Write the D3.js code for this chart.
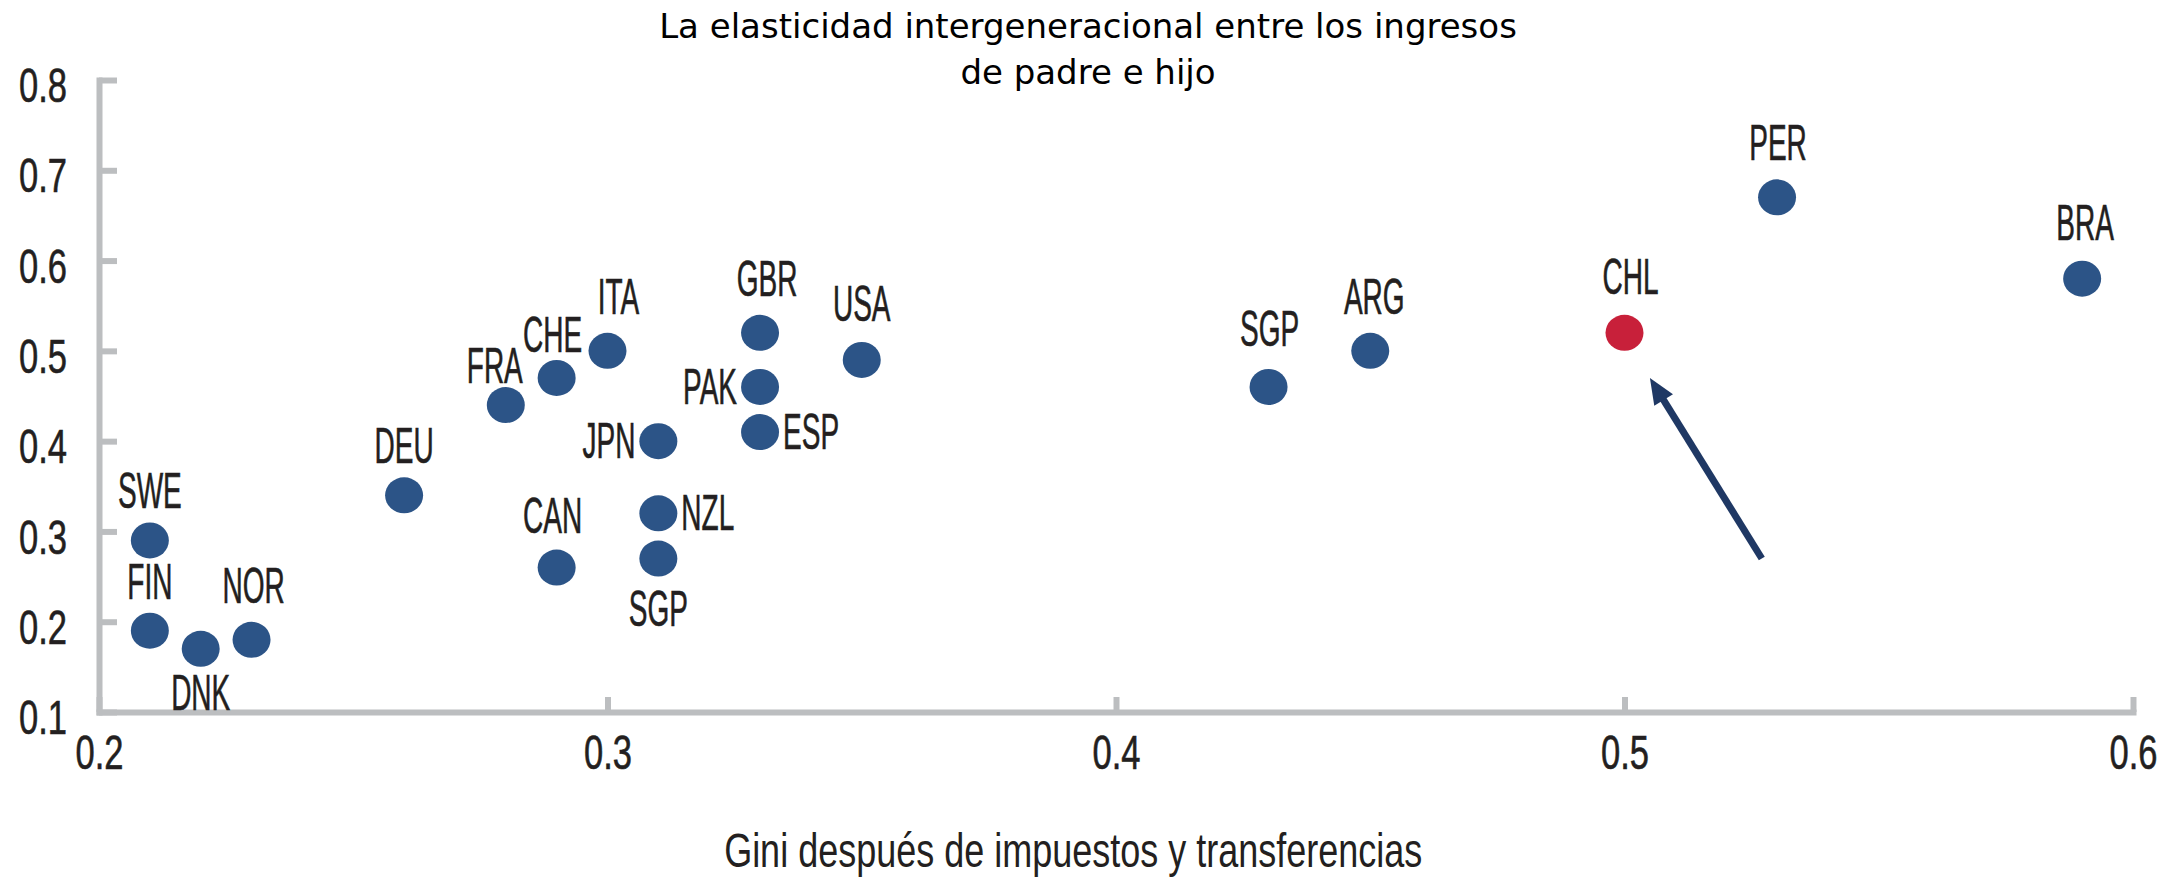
<!DOCTYPE html>
<html>
<head>
<meta charset="utf-8">
<script src="https://cdn.jsdelivr.net/npm/d3@7"></script>
<style>
  html, body { margin: 0; padding: 0; background: #fff; }
  svg { display: block; }
</style>
</head>
<body>
<svg id="chart" width="2184" height="882"></svg>
<script>
// ---------- data ----------
const countries = ["SWE","FIN","DNK","NOR","DEU","CAN","FRA","CHE","ITA","JPN","NZL","SGP","GBR","PAK","ESP","USA","SGP","ARG","CHL","PER","BRA"];
const gini      = [0.21, 0.21, 0.22, 0.23, 0.26, 0.29, 0.28, 0.29, 0.30, 0.31, 0.31, 0.31, 0.33, 0.33, 0.33, 0.35, 0.43, 0.45, 0.50, 0.53, 0.59];
const elasticity= [0.29, 0.19, 0.17, 0.18, 0.34, 0.26, 0.44, 0.47, 0.50, 0.40, 0.32, 0.27, 0.52, 0.46, 0.41, 0.49, 0.46, 0.50, 0.52, 0.67, 0.58];
const highlight = "CHL";
const xTicks = [0.2, 0.3, 0.4, 0.5, 0.6];
const yTicks = [0.1, 0.2, 0.3, 0.4, 0.5, 0.6, 0.7, 0.8];
const titleLines = ["La elasticidad intergeneracional entre los ingresos", "de padre e hijo"];
const xTitle = "Gini después de impuestos y transferencias";
// arrow annotation (data coordinates): from tail to head
const arrowFrom = [0.527, 0.27];
const arrowTo   = [0.505, 0.47];

// label placement per point (t = above, b = below, l = left, r = right)
const placement = ["t","t","b","t","t","t","t","t","t","l","r","b","t","l","r","t","t","t","t","t","t"];

// ---------- layout / style ----------
const svg = d3.select("#chart");
const x = d3.scaleLinear().domain([0.2, 0.6]).range([99, 2133]);
const y = d3.scaleLinear().domain([0.1, 0.8]).range([712, 80]);

const axisColor = "#bcbec0";
const textColor = "#231f20";
const dotColor = "#2c5487";
const redColor = "#c8203a";
const arrowColor = "#1f3864";
const condFont = "'Liberation Sans', Arial, sans-serif";

// nudges for crowded labels [dx, dy of label centre]
const nudge = { 0:[0,-49], 1:[0,-49], 3:[2,-54], 4:[0,-49], 5:[-4,-52], 6:[-11,-39], 7:[-4,-43], 8:[11,-54], 12:[7,-54], 15:[0,-56], 16:[1,-58], 17:[4,-54], 18:[6,-56], 19:[1,-54], 20:[3,-56] };

// ---------- title ----------
svg.append("g").selectAll("text").data(titleLines).join("text")
  .attr("x", 1088)
  .attr("y", (d, i) => 38 + i * 46)
  .attr("text-anchor", "middle")
  .attr("font-family", "'DejaVu Sans', Verdana, sans-serif")
  .attr("font-size", 34)
  .attr("fill", "#000")
  .text(d => d);

// ---------- axes ----------
const tickSX = 0.72;
const yAxis = d3.axisLeft(y).tickValues(yTicks).tickSize(-18).tickSizeOuter(0).tickFormat(d3.format(".1f"));
const gy = svg.append("g").attr("transform", `translate(${x(0.2)},0)`).call(yAxis);
const xAxis = d3.axisBottom(x).tickValues(xTicks).tickSize(-15).tickSizeOuter(0).tickFormat(d3.format(".1f"));
const gx = svg.append("g").attr("transform", `translate(0,${y(0.1)})`).call(xAxis);

[gx, gy].forEach(g => {
  g.select(".domain").attr("stroke", axisColor).attr("stroke-width", 6).attr("stroke-linecap", "square");
  g.selectAll(".tick line").attr("stroke", axisColor).attr("stroke-width", 6);
  g.selectAll(".tick text")
    .attr("font-family", condFont)
    .attr("font-size", 48)
    .attr("fill", textColor)
    .attr("stroke", textColor)
    .attr("stroke-width", 0.6);
});
gy.selectAll(".tick text")
  .attr("transform", `scale(${tickSX},1)`)
  .attr("x", -32 / tickSX)
  .attr("dy", "0.45em");
gx.selectAll(".tick text")
  .attr("transform", `scale(${tickSX},1)`)
  .attr("y", 57)
  .attr("dy", 0);

// x-axis title
svg.append("g").attr("transform", `translate(${x(0.39) + 8},${867})`)
  .append("text")
  .attr("transform", "scale(0.75,1)")
  .attr("text-anchor", "middle")
  .attr("font-family", condFont)
  .attr("font-size", 48)
  .attr("fill", textColor)
  .text(xTitle);

// ---------- points ----------
const pts = countries.map((c, i) => ({ c, gx: gini[i], ey: elasticity[i], pos: placement[i], i }));

svg.append("g").selectAll("ellipse").data(pts).join("ellipse")
  .attr("cx", d => x(d.gx))
  .attr("cy", d => y(d.ey))
  .attr("rx", 19)
  .attr("ry", 18)
  .attr("fill", d => d.c === highlight ? redColor : dotColor);

// ---------- labels ----------
const labSX = 0.56, labSize = 50, capHalf = 17;
const lg = svg.append("g").selectAll("g").data(pts).join("g")
  .attr("transform", d => {
    let dx = 0, dy = -54;
    if (d.pos === "b") dy = 44;
    if (d.pos === "l") { dx = -23; dy = 0; }
    if (d.pos === "r") { dx = 23; dy = 0; }
    if (d.pos === "b" && d.c === "SGP") dy = 50;
    if (nudge[d.i]) { dx = nudge[d.i][0]; dy = nudge[d.i][1]; }
    return `translate(${x(d.gx) + dx},${y(d.ey) + dy + capHalf})`;
  });
lg.append("text")
  .attr("transform", `scale(${labSX},1)`)
  .attr("text-anchor", d => d.pos === "l" ? "end" : d.pos === "r" ? "start" : "middle")
  .attr("font-family", condFont)
  .attr("font-size", labSize)
  .attr("fill", textColor)
  .attr("stroke", textColor)
  .attr("stroke-width", 0.6)
  .text(d => d.c);

// ---------- arrow ----------
const ax1 = x(arrowFrom[0]), ay1 = y(arrowFrom[1]);
const ax2 = x(arrowTo[0]), ay2 = y(arrowTo[1]);
const ang = Math.atan2(ay2 - ay1, ax2 - ax1);
const headLen = 26, headW = 11;
const bx = ax2 - headLen * Math.cos(ang), by = ay2 - headLen * Math.sin(ang);
svg.append("line")
  .attr("x1", ax1).attr("y1", ay1)
  .attr("x2", bx + 2 * Math.cos(ang)).attr("y2", by + 2 * Math.sin(ang))
  .attr("stroke", arrowColor).attr("stroke-width", 7);
const px = -Math.sin(ang), py = Math.cos(ang);
svg.append("path")
  .attr("d", d3.line()([[ax2, ay2], [bx + headW * px, by + headW * py], [bx - headW * px, by - headW * py]]) + "Z")
  .attr("fill", arrowColor);
</script>
</body>
</html>
